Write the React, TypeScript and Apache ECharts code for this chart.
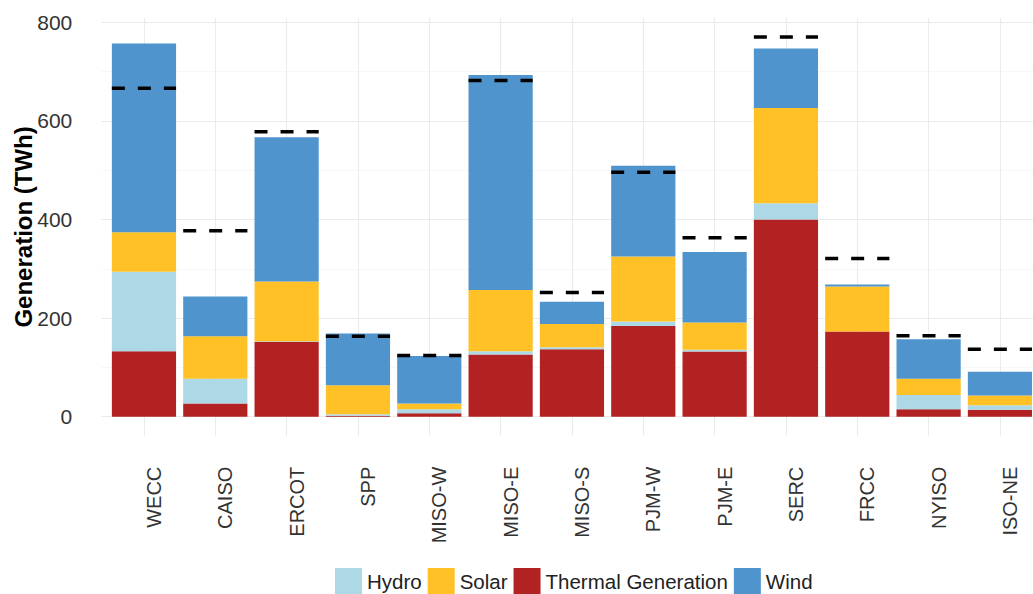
import React, { useEffect, useRef } from "react";
import * as echarts from "echarts";

const categories = ["WECC", "CAISO", "ERCOT", "SPP", "MISO-W", "MISO-E", "MISO-S", "PJM-W", "PJM-E", "SERC", "FRCC", "NYISO", "ISO-NE"];
const thermal = [133, 27, 152, 2, 7, 126, 137, 184, 132, 400, 173, 15, 14];
const hydro = [161, 50, 1, 3, 8, 7, 4, 9, 4, 33, 0, 29, 9];
const solar = [80, 86, 121, 59, 12, 124, 47, 132, 55, 193, 91, 33, 20];
const wind = [383, 81, 293, 105, 96, 436, 45, 184, 143, 121, 4, 80, 48];
const demand = [666, 377, 578, 163, 124, 682, 252, 496, 363, 770, 321, 164, 137];
const yTicks = [0, 200, 400, 600, 800];
const yMinor = [100, 300, 500, 700];

const FONT = "'Liberation Sans', Arial, sans-serif";

export default function App() {
  const ref = useRef<HTMLDivElement>(null);
  useEffect(() => {
    if (!ref.current) return;
    const chart = echarts.init(ref.current, null, { renderer: "svg" });
    const gridMarks: any[] = [];
    categories.forEach((_, i) => gridMarks.push({ xAxis: i + 1, lineStyle: { color: "#EBEBEB", width: 1.1, type: "solid" } }));
    yTicks.forEach((v) => gridMarks.push({ yAxis: v, lineStyle: { color: "#EBEBEB", width: 1.1, type: "solid" } }));
    yMinor.forEach((v) => gridMarks.push({ yAxis: v, lineStyle: { color: "#F2F2F2", width: 0.6, type: "solid" } }));

    const barSeries = (name: string, data: number[], color: string) => ({
      name,
      type: "bar",
      stack: "gen",
      barWidth: "90%",
      data,
      itemStyle: { color },
      xAxisIndex: 0,
      yAxisIndex: 0,
      z: 10,
    });

    chart.setOption({
      animation: false,
      textStyle: { fontFamily: FONT },
      grid: [
        { left: 108.3, width: 927.3, top: 22.3, height: 394.4, outerBoundsMode: "none" },
        { left: 101.2, width: 941.6, top: 18.1, height: 417.6, outerBoundsMode: "none" },
      ],
      xAxis: [
        {
          type: "category",
          gridIndex: 0,
          data: categories,
          axisLine: { show: false },
          axisTick: { show: false },
          splitLine: { show: false },
          axisLabel: {
            rotate: 90,
            margin: 50,
            fontSize: 20,
            color: "#333",
            fontFamily: FONT,
            verticalAlign: "top",
            lineHeight: 20,
            interval: 0,
          },
        },
        { type: "value", gridIndex: 1, min: 0.4, max: 13.6, show: false, splitLine: { show: false } },
      ],
      yAxis: [
        {
          type: "value",
          gridIndex: 0,
          min: 0,
          max: 800,
          interval: 200,
          axisLine: { show: false },
          axisTick: { show: false },
          splitLine: { show: false },
          axisLabel: { margin: 36, fontSize: 21, color: "#333", fontFamily: FONT },
        },
        {
          type: "value",
          gridIndex: 1,
          min: -38.5,
          max: 808.5,
          axisLine: { show: false },
          axisTick: { show: false },
          axisLabel: { show: false },
          splitLine: { show: false },
          name: "Generation (TWh)",
          nameLocation: "middle",
          nameGap: 66,
          nameTextStyle: { fontWeight: "bold", fontSize: 24, color: "#000", fontFamily: FONT },
        },
      ],
      legend: {
        left: 335,
        top: 568,
        padding: 0,
        itemWidth: 27,
        itemHeight: 27,
        itemGap: 6,
        icon: "rect",
        data: ["Hydro", "Solar", "Thermal Generation", "Wind"],
        textStyle: { fontSize: 20.5, color: "#222", fontFamily: FONT },
      },
      series: [
        {
          type: "scatter",
          xAxisIndex: 1,
          yAxisIndex: 1,
          data: [],
          z: 0,
          silent: true,
          markLine: {
            z: 0,
            silent: true,
            symbol: ["none", "none"],
            label: { show: false },
            animation: false,
            data: gridMarks,
          },
        },
        barSeries("Thermal Generation", thermal, "#B22222"),
        barSeries("Hydro", hydro, "#ADD8E6"),
        barSeries("Solar", solar, "#FFC125"),
        barSeries("Wind", wind, "#4F94CD"),
        {
          type: "custom",
          xAxisIndex: 0,
          yAxisIndex: 0,
          z: 20,
          silent: true,
          data: demand.map((v, i) => [i, v]),
          renderItem: (params: any, api: any) => {
            const pt = api.coord([api.value(0), api.value(1)]);
            const w = api.size([1, 0])[0] * 0.9;
            return {
              type: "line",
              shape: { x1: pt[0] - w / 2, y1: pt[1], x2: pt[0] + w / 2, y2: pt[1] },
              style: { stroke: "#000", lineWidth: 3.5, lineDash: [13, 13], fill: null },
            };
          },
        },
      ],
    });
    return () => chart.dispose();
  }, []);
  return <div ref={ref} style={{ position: "fixed", left: 0, top: 0, width: 1033, height: 594, background: "#fff" }} />;
}
